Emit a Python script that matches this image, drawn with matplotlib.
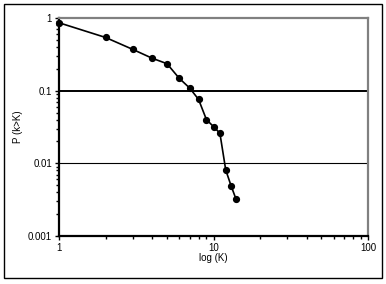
import matplotlib
matplotlib.use("Agg")
import matplotlib.pyplot as plt
from matplotlib.patches import Rectangle
from matplotlib.ticker import LogLocator, NullFormatter

k_values = [1, 2, 3, 4, 5, 6, 7, 8, 9, 10, 11, 12, 13, 14]
p_values = [0.86, 0.54, 0.37, 0.28, 0.235, 0.148, 0.109, 0.076, 0.040, 0.032, 0.026, 0.0081, 0.0049, 0.0032]
x_ticks = [1, 10, 100]
x_tick_labels = ["1", "10", "100"]
y_ticks = [0.001, 0.01, 0.1, 1]
y_tick_labels = ["0.001", "0.01", "0.1", "1"]

plt.rcParams['font.family'] = ['Liberation Sans', 'DejaVu Sans']

fig = plt.figure(figsize=(3.86, 2.84), dpi=100)
fig.patches.append(Rectangle((4/386, 1-278/284), 378/386, 274/284, transform=fig.transFigure,
                             fill=False, edgecolor='black', linewidth=1.0))
ax = fig.add_axes([59/386, 1-236/284, 309/386, 218/284])
ax.set_xscale('log')
ax.set_yscale('log')
ax.set_xlim(1, 100)
ax.set_ylim(0.001, 1)

ax.axhline(0.1, color='black', linewidth=1.4, zorder=1)
ax.axhline(0.01, color='black', linewidth=0.8, zorder=1)

ax.plot(k_values, p_values, color='black', linewidth=1.2, marker='o', markersize=4.2,
        markerfacecolor='black', markeredgecolor='black', zorder=3, clip_on=False)

ax.set_xticks(x_ticks)
ax.set_xticklabels(x_tick_labels)
ax.set_yticks(y_ticks)
ax.set_yticklabels(y_tick_labels)
ax.xaxis.set_minor_locator(LogLocator(base=10, subs=range(2, 10)))
ax.yaxis.set_minor_locator(LogLocator(base=10, subs=range(2, 10)))
ax.xaxis.set_minor_formatter(NullFormatter())
ax.yaxis.set_minor_formatter(NullFormatter())
ax.tick_params(which='major', direction='out', length=3, width=1, labelsize=7, pad=2, colors='black')
ax.tick_params(which='minor', direction='out', length=2, width=1)

ax.spines['left'].set_linewidth(1.6)
ax.spines['bottom'].set_linewidth(1.6)
ax.spines['right'].set_color('#808080')
ax.spines['right'].set_linewidth(1.6)
ax.spines['top'].set_color('#808080')
ax.spines['top'].set_linewidth(1.6)

ax.set_xlabel('log (K)', fontsize=7)
ax.set_ylabel('P (k>K)', fontsize=7)
ax.xaxis.set_label_coords(0.5, -22/218)
ax.yaxis.set_label_coords(-41/309, 0.5)
ax.xaxis.label.set_verticalalignment('center')
ax.yaxis.label.set_verticalalignment('center')

fig.savefig('out.png', dpi=100)
